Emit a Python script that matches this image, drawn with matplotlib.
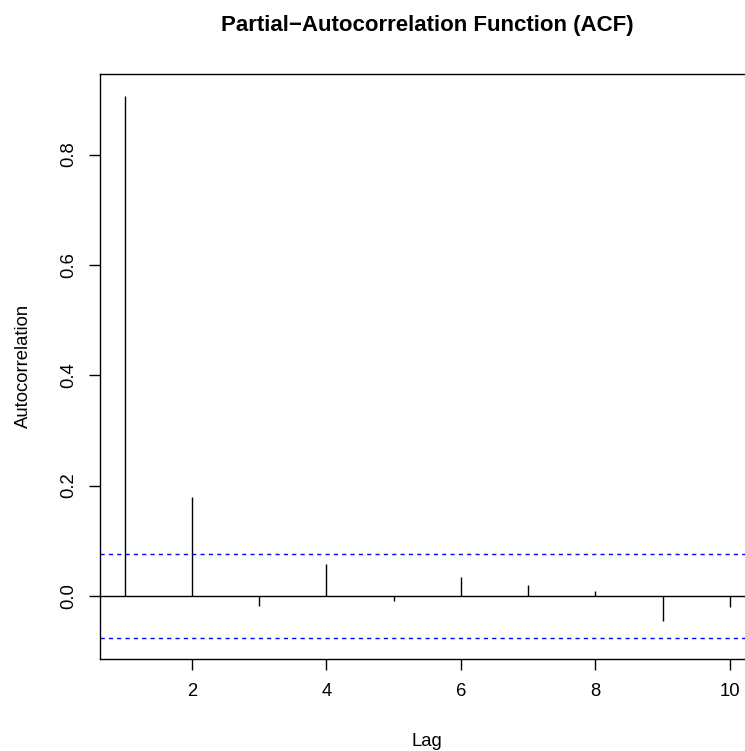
import matplotlib
matplotlib.use("Agg")
import matplotlib.pyplot as plt

lags = [1, 2, 3, 4, 5, 6, 7, 8, 9, 10]
pacf = [0.907, 0.179, -0.018, 0.058, -0.010, 0.035, 0.019, 0.008, -0.045, -0.020]
ci = 0.0756
xticks = [2, 4, 6, 8, 10]
yticks = [0.0, 0.2, 0.4, 0.6, 0.8]

plt.rcParams['font.family'] = ['Liberation Sans', 'DejaVu Sans']

W, H = 745, 751
fig = plt.figure(figsize=(W / 100, H / 100), dpi=100)
left, right, top, bottom = 100.4, 754.0, 74.0, 659.3
ax = fig.add_axes([left / W, 1 - bottom / H, (right - left) / W, (bottom - top) / H])

ax.vlines(lags, 0, pacf, colors='black', linewidth=1.0)
ax.axhline(0, color='black', linewidth=1.0)
ax.axhline(ci, color='blue', linestyle=(0, (3, 3)), linewidth=1.0)
ax.axhline(-ci, color='blue', linestyle=(0, (3, 3)), linewidth=1.0)

ax.set_xlim(0.64, 10.36)
ax.set_ylim(-0.115, 0.946)
ax.set_xticks(xticks)
ax.set_xticklabels([str(v) for v in xticks])
ax.set_yticks(yticks)
ax.set_yticklabels([f"{v:.1f}" for v in yticks], rotation=90, va='center')
for s in ax.spines.values():
    s.set_linewidth(1.0)
ax.tick_params(axis='both', direction='out', length=8, width=1.0, labelsize=13.3, pad=9)

fig.text((left + right) / 2 / W, 1 - 31 / H, "Partial\u2212Autocorrelation Function (ACF)",
         ha='center', va='baseline', fontsize=16, fontweight='bold')
fig.text(427 / W, 1 - 746 / H, "Lag", ha='center', va='baseline', fontsize=13.3)
fig.text(23.5 / W, 1 - 366 / H, "Autocorrelation", ha='center', va='center', fontsize=13.3, rotation=90)

fig.savefig("out.png", dpi=100)
